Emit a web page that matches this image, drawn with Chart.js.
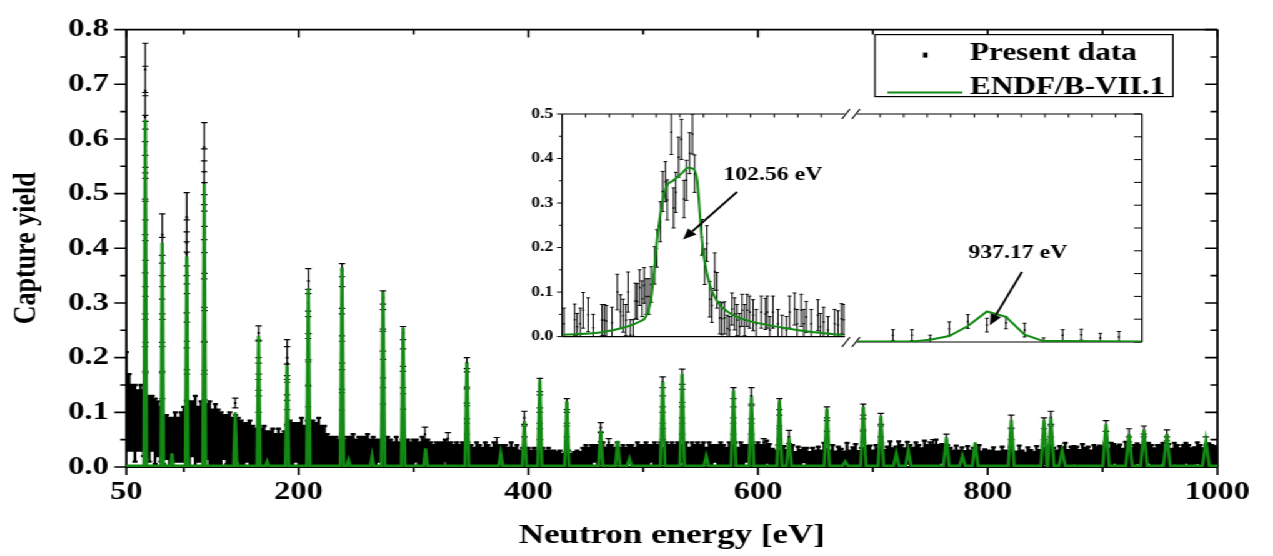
<!DOCTYPE html>
<html>
<head>
<meta charset="utf-8">
<script src="https://cdn.jsdelivr.net/npm/chart.js@4.4.0/dist/chart.umd.min.js"></script>
<style>
  html, body { margin: 0; padding: 0; background: #fff; overflow: hidden; }
  /* the original figure is stretched sideways, so the whole drawing is too */
  #wrap { position: absolute; left: 0; top: 0; width: 1018px; height: 556px;
          transform: scaleX(1.25); transform-origin: 0 0; }
  canvas { position: absolute; }
</style>
</head>
<body>
<div id="wrap">
  <canvas id="main" width="1018" height="556" style="left:0;top:0"></canvas>
  <canvas id="insetL" width="275" height="254" style="left:405px;top:98px"></canvas>
  <canvas id="insetR" width="255" height="254" style="left:665px;top:98px"></canvas>
</div>
<script>
// ---- main plot: axes ----
const xTickLabels = [50, 200, 400, 600, 800, 1000];
const xMinorTicks = [100, 300, 500, 700, 900];
const yTicks = [0, 0.1, 0.2, 0.3, 0.4, 0.5, 0.6, 0.7, 0.8];
const yMinorTicks = [0.05, 0.15, 0.25, 0.35, 0.45, 0.55, 0.65, 0.75];

// ---- measured yield, off-resonance (one point every 2.5 eV from 50 eV) ----
const bgStart = 50, bgStep = 2.5;
const bgY = [
  .12,.10,.09,.08,.085,.09,.08,.075,.07,.08,.065,.07,.06,.05,.055,.045,.05,.055,.05,.055,
  .06,.065,.06,.07,.065,.06,.065,.06,.065,.06,.055,.06,.055,.05,.055,.05,.05,.045,.05,.05,
  .045,.04,.045,.04,.04,.035,.04,.035,.04,.03,.035,.035,.03,.035,.03,.035,.04,.045,.04,.045,
  .04,.045,.04,.045,.04,.045,.04,.045,.04,.035,.03,.03,.025,.03,.025,.03,.025,.03,.025,.03,
  .025,.03,.025,.03,.03,.025,.03,.025,.03,.025,.025,.03,.025,.025,.03,.025,.025,.02,.025,.025,
  .025,.03,.025,.03,.025,.025,.025,.02,.025,.02,.025,.03,.025,.025,.02,.025,.02,.025,.02,.025,
  .02,.02,.025,.02,.02,.025,.02,.02,.025,.02,.02,.025,.02,.02,.025,.02,.02,.015,.02,.015,
  .02,.015,.02,.015,.015,.02,.015,.02,.015,.015,.015,.015,.012,.015,.015,.012,.015,.015,.015,.02,
  .02,.02,.02,.025,.02,.02,.025,.02,.02,.02,.02,.025,.02,.02,.02,.025,.02,.02,.025,.02,
  .02,.025,.02,.025,.025,.02,.025,.02,.025,.02,.025,.02,.025,.025,.02,.025,.02,.025,.02,.025,
  .02,.025,.02,.025,.02,.025,.02,.025,.02,.02,.025,.02,.025,.02,.025,.02,.025,.02,.025,.02,
  .025,.02,.022,.028,.02,.018,.015,.022,.015,.02,.016,.015,.022,.014,.02,.016,.022,.015,.015,.02,
  .015,.02,.016,.024,.018,.015,.022,.015,.02,.018,.015,.024,.015,.02,.022,.015,.02,.016,.02,.022,
  .015,.022,.018,.024,.016,.02,.025,.018,.02,.027,.02,.018,.026,.02,.019,.025,.02,.018,.026,.02,
  .025,.022,.027,.02,.025,.02,.022,.02,.015,.022,.016,.02,.015,.021,.015,.02,.016,.022,.015,.017,
  .015,.017,.02,.014,.016,.021,.015,.017,.02,.014,.016,.022,.015,.014,.02,.016,.015,.021,.016,.015,
  .02,.016,.022,.02,.015,.021,.02,.024,.016,.02,.022,.019,.016,.023,.02,.019,.015,.022,.02,.021,
  .02,.022,.018,.024,.025,.02,.021,.018,.026,.02,.019,.022,.025,.02,.018,.023,.026,.02,.019,.022,
  .02,.026,.019,.022,.018,.025,.02,.019,.022,.026,.02,.018,.021,.026,.02,.019,.022,.025,.02,.021,
  .02
];
const bgErr = [
  .09,.07,.06,.07,.055,.06,.06,.055,.06,.05,.06,.05,.05,.045,.04,.045,.04,.045,.04,.045,
  .05,.055,.06,.05,.065,.05,.055,.05,.05,.06,.05,.055,.05,.05,.04,.045,.05,.045,.045,.04,
  .04,.04,.035,.045,.035,.035,.03,.035,.035,.035,.03,.035,.03,.035,.03,.03,.035,.04,.04,.035,
  .04,.045,.035,.04,.045,.04,.04,.045,.035,.04,.03,.025,.03,.025,.025,.03,.025,.025,.03,.03,
  .025,.025,.03,.025,.03,.025,.025,.025,.02,.025,.02,.025,.025,.02,.025,.02,.025,.02,.025,.02,
  .025,.02,.02,.025,.025,.025,.02,.02,.02,.025,.02,.02,.02,.02,.02,.02,.02,.02,.02,.02,
  .02,.015,.02,.02,.015,.02,.02,.015,.02,.02,.02,.015,.02,.015,.02,.015,.02,.015,.015,.015,
  .015,.015,.015,.015,.02,.015,.015,.015,.015,.015,.012,.015,.012,.012,.015,.012,.012,.015,.012,.015,
  .02,.015,.02,.015,.02,.015,.02,.015,.02,.02,.015,.02,.015,.02,.015,.015,.02,.015,.02,.02,
  .02,.02,.02,.015,.02,.02,.02,.015,.02,.02,.02,.02,.02,.015,.02,.02,.015,.02,.02,.02,
  .02,.02,.015,.02,.02,.015,.02,.02,.02,.015,.02,.02,.02,.015,.02,.02,.015,.02,.02,.02,
  .02,.02,.018,.02,.022,.015,.015,.018,.013,.018,.015,.012,.018,.013,.017,.015,.013,.02,.012,.015,
  .015,.017,.014,.02,.015,.015,.018,.013,.017,.015,.013,.02,.015,.016,.02,.014,.015,.015,.018,.017,
  .015,.018,.015,.02,.015,.017,.022,.016,.017,.02,.02,.016,.02,.02,.016,.02,.02,.016,.022,.02,
  .02,.018,.023,.02,.017,.02,.018,.015,.015,.017,.014,.016,.014,.017,.015,.015,.014,.018,.013,.015,
  .015,.013,.016,.014,.012,.016,.015,.012,.017,.014,.012,.017,.015,.012,.016,.015,.012,.017,.015,.015,
  .015,.015,.018,.015,.015,.017,.016,.02,.015,.017,.016,.018,.015,.019,.015,.018,.015,.018,.016,.018,
  .017,.02,.015,.02,.017,.018,.02,.015,.02,.02,.015,.018,.018,.02,.015,.02,.018,.02,.015,.018,
  .02,.018,.016,.02,.015,.019,.02,.015,.018,.018,.02,.016,.015,.019,.02,.015,.018,.018,.02,.017,
  .015
];

// ---- measured yield on resonances and isolated high points: [energy eV, yield, error] ----
const peakData = [
  [66.5,.727,.048],[66.5,.688,.045],[66.4,.64,.045],[66.6,.59,.042],[66.5,.578,.04],[66.4,.53,.04],
  [66.6,.49,.038],[66.5,.45,.036],[66.4,.39,.035],[66.6,.345,.033],[66.5,.30,.03],[66.4,.25,.03],
  [66.6,.20,.028],[66.5,.15,.025],
  [81.3,.425,.038],[81.3,.385,.035],[81.2,.34,.033],[81.4,.30,.03],[81.3,.25,.03],[81.2,.20,.028],[81.4,.15,.025],
  [102.6,.457,.045],[102.6,.41,.042],[102.5,.39,.04],[102.7,.355,.038],[102.6,.30,.035],[102.5,.25,.032],
  [102.7,.20,.03],[102.6,.15,.028],
  [117.8,.585,.045],[117.8,.54,.042],[117.7,.52,.04],[117.9,.48,.04],[117.8,.43,.038],[117.7,.38,.036],
  [117.9,.32,.034],[117.8,.26,.032],[117.7,.20,.03],[117.9,.15,.027],
  [144.8,.117,.009],
  [165.2,.245,.013],[165.2,.21,.02],[165.1,.18,.02],[165.3,.15,.02],[165.2,.12,.02],
  [190,.20,.033],[190,.19,.03],[189.9,.16,.028],[190.1,.13,.025],[190,.10,.022],
  [208.5,.34,.023],[208.5,.30,.025],[208.4,.26,.025],[208.6,.22,.024],[208.5,.17,.022],[208.4,.13,.02],
  [237.8,.36,.012],[237.8,.31,.02],[237.7,.26,.02],[237.9,.21,.02],[237.8,.16,.018],[237.7,.12,.016],
  [273.5,.31,.012],[273.5,.27,.018],[273.4,.23,.018],[273.6,.18,.017],[273.5,.13,.015],
  [291,.245,.012],[291,.20,.016],[290.9,.16,.015],[291.1,.12,.014],
  [310,.06,.013],[330,.052,.011],
  [346.5,.19,.01],[346.5,.16,.014],[346.4,.13,.013],[346.6,.10,.012],[346.5,.07,.01],
  [372.5,.045,.009],
  [396.5,.09,.012],[396.5,.065,.01],
  [410,.15,.012],[410,.12,.012],[409.9,.09,.01],[410.1,.06,.01],
  [433.5,.115,.01],[433.5,.09,.01],[433.4,.065,.01],
  [463,.072,.009],[463,.055,.009],[470,.045,.007],
  [517,.155,.01],[517,.12,.01],[516.9,.09,.01],[517.1,.06,.01],
  [534,.165,.014],[534,.13,.012],[533.9,.10,.01],[534.1,.07,.01],
  [578.7,.135,.01],[578.7,.10,.01],[578.6,.07,.01],
  [594.3,.13,.015],[594.3,.10,.012],[594.2,.07,.01],
  [605,.045,.007],
  [618.7,.115,.01],[618.7,.085,.01],[618.6,.06,.01],
  [627,.055,.012],
  [660,.10,.01],[660,.075,.01],
  [691.7,.105,.01],[691.7,.078,.01],[691.6,.055,.01],
  [707,.088,.01],[707,.065,.01],
  [752.5,.04,.01],[764,.05,.01],
  [820.5,.083,.012],[820.5,.06,.01],
  [849,.08,.01],[849,.06,.01],
  [855,.09,.012],[855,.065,.01],
  [903,.075,.01],[903,.055,.01],
  [923,.058,.012],[923,.045,.01],
  [936,.065,.01],[936,.05,.01],
  [956,.058,.01],[956,.045,.01],
  [990,.045,.01]
];

// ---- ENDF/B-VII.1 resonances: [energy eV, peak yield, half width eV] ----
const endfPeaks = [
  [66.5,.635,1.2],[81.3,.41,1.2],[89.8,.025,1.2],[102.6,.385,1.3],[117.8,.517,1.3],
  [144.8,.10,1.4],[165.2,.24,1.4],[172.6,.01,1.4],[190.0,.186,1.5],[208.5,.326,1.5],
  [237.8,.365,1.5],[243.5,.013,1.5],[264,.02,1.5],[273.5,.32,1.6],[291.0,.255,1.6],
  [310.5,.034,1.6],[346.5,.19,1.7],[376,.025,1.8],[396.5,.084,1.8],[410,.16,1.8],
  [433.5,.12,1.9],[463,.066,1.9],[477.8,.048,2],[488,.015,2],[517,.156,2],
  [534,.17,2],[555,.02,2.1],[578.7,.14,2.1],[594.3,.129,2.1],[618.7,.122,2.2],
  [627,.054,2.2],[660,.107,2.3],[676,.01,2.3],[691.7,.11,2.3],[707,.093,2.4],
  [720.4,.025,2.4],[730.9,.03,2.4],[764,.054,2.5],[778,.02,2.5],[789.1,.045,2.5],
  [820.5,.086,2.6],[849,.086,2.7],[855,.09,2.7],[864.8,.03,2.7],[903,.078,2.8],
  [923,.06,2.8],[936,.068,2.8],[956,.06,2.9],[990,.047,3]
];

// ---- inset, left panel (102.56 eV resonance): [energy eV, yield, error] ----
const insetLeftTicks = [99.25, 100, 100.75, 101.5, 102.25, 103, 103.75, 104.5, 105.25, 106, 106.75];
const insetLeftData = [
  [98.56,.029,.035],[98.90,.038,.035],[98.98,.022,.03],[99.08,.029,.035],[99.17,.059,.04],
  [99.33,.049,.038],[99.49,.020,.03],[99.77,.037,.035],[99.84,.037,.035],[99.91,.035,.035],
  [100.09,.031,.035],[100.26,.100,.04],[100.36,.056,.038],[100.44,.047,.037],[100.53,.037,.035],
  [100.60,.100,.045],[100.67,.003,.035],[100.76,.003,.035],[100.83,.080,.04],[100.89,.079,.04],
  [100.97,.110,.04],[101.05,.085,.04],[101.11,.115,.04],[101.18,.090,.04],[101.26,.090,.04],
  [101.34,.117,.04],[101.45,.160,.042],[101.52,.198,.042],[101.63,.258,.045],[101.70,.326,.045],
  [101.79,.348,.045],[101.85,.307,.045],[101.98,.459,.05],[102.05,.289,.045],[102.12,.324,.045],
  [102.21,.403,.045],[102.30,.443,.045],[102.38,.309,.042],[102.46,.351,.045],[102.56,.412,.046],
  [102.65,.455,.045],[102.72,.366,.042],[102.95,.223,.04],[103.04,.157,.04],[103.11,.209,.04],
  [103.20,.084,.04],[103.27,.070,.038],[103.36,.146,.042],[103.43,.104,.04],[103.52,.042,.036],
  [103.59,.040,.036],[103.67,.042,.036],[103.76,.018,.03],[103.83,.015,.03],[103.91,.062,.036],
  [103.99,.051,.036],[104.07,.037,.035],[104.15,.022,.03],[104.23,.059,.036],[104.31,.037,.035],
  [104.39,.059,.036],[104.47,.055,.036],[104.58,.048,.035],[104.68,.029,.032],[104.84,.055,.036],
  [104.97,.051,.035],[105.03,.055,.036],[105.11,.015,.03],[105.21,.055,.036],[105.37,.029,.032],
  [105.50,.018,.03],[105.64,.015,.03],[105.74,.055,.036],[105.90,.062,.036],[105.98,.029,.032],
  [106.11,.059,.036],[106.19,.029,.032],[106.27,.044,.035],[106.43,.029,.032],[106.64,.048,.035],
  [106.72,.022,.03],[106.82,.033,.033],[106.96,.015,.03],[107.17,.029,.032],[107.28,.026,.032],
  [107.39,.040,.034],[107.46,.038,.034]
];
const insetLeftEndf = [
  [98.53,.004],[99.70,.009],[100.55,.022],[100.97,.034],[101.18,.046],[101.34,.088],
  [101.45,.161],[101.55,.234],[101.71,.307],[101.82,.337],[102.03,.350],[102.30,.366],
  [102.51,.379],[102.67,.377],[102.80,.351],[102.86,.300],[102.93,.234],[103.04,.168],
  [103.20,.117],[103.41,.082],[103.83,.053],[104.36,.037],[105.53,.020],[106.59,.009],[107.44,.004]
];

// ---- inset, right panel (937.17 eV resonance) ----
const insetRightTicks = [931.5, 932.75, 934, 935.25, 936.5, 937.75, 939, 940.25, 941.5, 942.75, 944];
const insetRightData = [
  [932.18,.015,.012],[933.19,.015,.012],[934.16,.007,.008],[935.17,.029,.015],[936.16,.045,.015],
  [937.17,.037,.015],[938.18,.042,.013],[939.17,.026,.015],[940.18,.001,.008],[941.19,.015,.012],
  [942.18,.016,.012],[943.19,.009,.01],[944.18,.011,.012]
];
const insetRightEndf = [
  [930.27,.001],[933.19,.001],[934.16,.005],[935.17,.013],[936.16,.035],[937.17,.067],
  [938.18,.055],[939.17,.016],[940.18,.002],[941.19,.002],[945.40,.001]
];
const insetYTicks = [0, 0.1, 0.2, 0.3, 0.4, 0.5];
const insetYMinor = [0.05, 0.15, 0.25, 0.35, 0.45];

// labels with arrows, in data units of each panel
const noteLeft = { text: '102.56 eV', at: [105.21, 0.363], from: [104.07, 0.325], to: [102.35, 0.218] };
const noteRight = { text: '937.17 eV', at: [938.82, 0.196], from: [939.03, 0.154], to: [937.33, 0.037] };

const GREEN = '#138a13';
const SERIF = "'Liberation Serif', 'Times New Roman', serif";
Chart.defaults.font.family = SERIF;
Chart.defaults.font.weight = 'bold';
Chart.defaults.color = '#000';

// vertical error bars with caps, drawn under each dataset that has .errors
const errorBars = {
  id: 'errorBars',
  beforeDatasetDraw(chart, args) {
    const ds = chart.data.datasets[args.index];
    if (!ds.errors) return;
    const { ctx, chartArea: a } = chart;
    const xs = chart.scales.x, ys = chart.scales.y;
    const c = ds.capWidth / 2;
    ctx.save();
    ctx.beginPath();
    ctx.rect(a.left, a.top, a.right - a.left, a.bottom - a.top);
    ctx.clip();
    ctx.strokeStyle = '#000';
    ctx.lineWidth = ds.errWidth;
    ctx.beginPath();
    ds.data.forEach((p, i) => {
      const px = xs.getPixelForValue(p.x);
      const lo = p.y - ds.errors[i];
      const y0 = ys.getPixelForValue(Math.max(0, lo));
      const y1 = ys.getPixelForValue(p.y + ds.errors[i]);
      ctx.moveTo(px, y0); ctx.lineTo(px, y1);
      ctx.moveTo(px - c, y1); ctx.lineTo(px + c, y1);
      if (lo > 0) { ctx.moveTo(px - c, y0); ctx.lineTo(px + c, y0); }
    });
    ctx.stroke();
    ctx.restore();
  }
};

// box lines, tick marks (in or out) and axis break marks
const frame = {
  id: 'frame',
  beforeDatasetsDraw(chart, args, o) {
    const { ctx, chartArea: a } = chart;
    ctx.save();
    ctx.strokeStyle = '#000';
    ctx.lineWidth = o.width;
    ctx.beginPath();
    o.sides.forEach(s => {
      if (s === 'left') { ctx.moveTo(a.left, a.top); ctx.lineTo(a.left, a.bottom); }
      if (s === 'right') { ctx.moveTo(a.right, a.top); ctx.lineTo(a.right, a.bottom); }
      if (s === 'top') { ctx.moveTo(a.left, a.top); ctx.lineTo(a.right, a.top); }
      if (s === 'bottom') { ctx.moveTo(a.left, a.bottom); ctx.lineTo(a.right, a.bottom); }
    });
    ctx.stroke();
    ctx.lineWidth = o.tickWidth;
    ctx.beginPath();
    o.marks.forEach(m => {
      const vertical = m.side === 'left' || m.side === 'right';
      const sc = vertical ? chart.scales.y : chart.scales.x;
      m.values.forEach(v => {
        const p = sc.getPixelForValue(v);
        if (m.side === 'left') { ctx.moveTo(a.left, p); ctx.lineTo(a.left + m.len, p); }
        if (m.side === 'right') { ctx.moveTo(a.right, p); ctx.lineTo(a.right - m.len, p); }
        if (m.side === 'top') { ctx.moveTo(p, a.top); ctx.lineTo(p, a.top + m.len); }
        if (m.side === 'bottom') { ctx.moveTo(p, a.bottom); ctx.lineTo(p, a.bottom - m.len); }
      });
    });
    ctx.stroke();
    if (o.breaks) {
      ctx.lineWidth = 1.1;
      ctx.beginPath();
      [a.top, a.bottom].forEach(yy => {
        [-12, -4].forEach(dx => {
          ctx.moveTo(a.left + dx, yy + 5);
          ctx.lineTo(a.left + dx + 6.4, yy - 5);
        });
      });
      ctx.stroke();
    }
    ctx.restore();
  }
};

// legend in a box inside the plot, drawn from the datasets' own labels and styles
const boxLegend = {
  id: 'boxLegend',
  afterDraw(chart, args, o) {
    if (!o.show) return;
    const { ctx, chartArea: a } = chart;
    const x0 = a.right - o.right - o.width, y0 = a.top + o.top;
    const pts = chart.data.datasets[0], line = chart.data.datasets[2];
    ctx.save();
    ctx.fillStyle = '#fff';
    ctx.fillRect(x0, y0, o.width, o.height);
    ctx.strokeStyle = '#000';
    ctx.lineWidth = 1.2;
    ctx.strokeRect(x0, y0, o.width, o.height);
    ctx.font = 'bold 25px ' + SERIF;
    ctx.textAlign = 'left';
    ctx.textBaseline = 'alphabetic';
    ctx.fillStyle = pts.backgroundColor;
    ctx.fillRect(x0 + 38.5, y0 + 18, 3.6, 5);
    ctx.fillStyle = '#000';
    ctx.fillText(pts.label, x0 + 76, y0 + 25);
    ctx.strokeStyle = line.borderColor;
    ctx.lineWidth = 2;
    ctx.beginPath();
    ctx.moveTo(x0 + 10, y0 + 58);
    ctx.lineTo(x0 + 70, y0 + 58);
    ctx.stroke();
    ctx.fillText(line.label, x0 + 76, y0 + 59.5);
    ctx.restore();
  }
};

// text label with an arrow pointing at a resonance
const notes = {
  id: 'notes',
  afterDatasetsDraw(chart, args, o) {
    if (!o.item) return;
    const n = o.item;
    const { ctx } = chart;
    const xs = chart.scales.x, ys = chart.scales.y;
    ctx.save();
    ctx.font = 'bold 19px ' + SERIF;
    ctx.fillStyle = '#000';
    ctx.textAlign = 'center';
    ctx.textBaseline = 'middle';
    ctx.fillText(n.text, xs.getPixelForValue(n.at[0]), ys.getPixelForValue(n.at[1]));
    const x0 = xs.getPixelForValue(n.from[0]), y0 = ys.getPixelForValue(n.from[1]);
    const x1 = xs.getPixelForValue(n.to[0]), y1 = ys.getPixelForValue(n.to[1]);
    const ang = Math.atan2(y1 - y0, x1 - x0);
    const head = 11, hw = 4.5;
    const bx = x1 - head * Math.cos(ang), by = y1 - head * Math.sin(ang);
    ctx.strokeStyle = '#000';
    ctx.lineWidth = 1.8;
    ctx.beginPath();
    ctx.moveTo(x0, y0);
    ctx.lineTo(bx, by);
    ctx.stroke();
    ctx.beginPath();
    ctx.moveTo(x1, y1);
    ctx.lineTo(bx + hw * Math.sin(ang), by - hw * Math.cos(ang));
    ctx.lineTo(bx - hw * Math.sin(ang), by + hw * Math.cos(ang));
    ctx.closePath();
    ctx.fill();
    ctx.restore();
  }
};

// ---- main chart ----
const bgPoints = bgY.map((v, i) => ({ x: bgStart + i * bgStep, y: v }));
const peakPoints = peakData.map(d => ({ x: d[0], y: d[1] }));

const endfLine = [{ x: 50, y: 0.002 }];
endfPeaks.forEach(([e, h, hw]) => {
  endfLine.push({ x: e - hw, y: 0.002 }, { x: e, y: h }, { x: e + hw, y: 0.002 });
});
endfLine.push({ x: 1000, y: 0.002 });

new Chart(document.getElementById('main'), {
  type: 'scatter',
  data: {
    datasets: [
      {
        label: 'Present data',
        data: bgPoints,
        errors: bgErr,
        errWidth: 2.3,
        capWidth: 4,
        pointStyle: 'rect',
        pointRadius: 1.3,
        backgroundColor: '#000',
        borderWidth: 0,
        order: 3
      },
      {
        label: 'Present data (resonances)',
        data: peakPoints,
        errors: peakData.map(d => d[2]),
        errWidth: 1.2,
        capWidth: 5,
        pointStyle: 'rect',
        pointRadius: 1.4,
        backgroundColor: '#000',
        borderWidth: 0,
        order: 2
      },
      {
        label: 'ENDF/B-VII.1',
        data: endfLine,
        showLine: true,
        borderColor: GREEN,
        borderWidth: 2.6,
        pointRadius: 0,
        tension: 0,
        order: 1
      }
    ]
  },
  options: {
    responsive: false,
    animation: false,
    devicePixelRatio: 1,
    events: [],
    layout: { padding: { left: 0, right: 44, top: 20, bottom: 0 } },
    scales: {
      x: {
        type: 'linear',
        min: 50,
        max: 1000,
        afterFit: s => { s.height = 89; },
        afterBuildTicks: s => { s.ticks = xTickLabels.map(v => ({ value: v })); },
        grid: { display: false, drawTicks: false },
        border: { display: false },
        ticks: { autoSkip: false, maxRotation: 0, padding: 10, font: { size: 26 }, callback: v => String(v) },
        title: { display: true, text: 'Neutron energy [eV]', font: { size: 28 }, padding: { top: 0, bottom: 3 } }
      },
      y: {
        min: 0,
        max: 0.8,
        afterFit: s => { s.width = 101; },
        afterBuildTicks: s => { s.ticks = yTicks.map(v => ({ value: v })); },
        grid: { display: false, drawTicks: false },
        border: { display: false },
        ticks: { padding: 14, font: { size: 26 }, callback: v => v.toFixed(1) },
        title: { display: true, text: 'Capture yield', font: { size: 26 }, padding: { top: 6, bottom: 0 } }
      }
    },
    plugins: {
      legend: { display: false },
      tooltip: { enabled: false },
      frame: {
        width: 1.8,
        tickWidth: 1.6,
        sides: ['left', 'bottom', 'top', 'right'],
        marks: [
          { side: 'left', values: yTicks, len: -9.6 },
          { side: 'left', values: yMinorTicks, len: -4.8 },
          { side: 'right', values: yTicks, len: 10 },
          { side: 'right', values: yMinorTicks, len: 5.6 },
          { side: 'bottom', values: xTickLabels, len: -8 },
          { side: 'bottom', values: xMinorTicks, len: -5 },
          { side: 'top', values: xTickLabels, len: 8 },
          { side: 'top', values: xMinorTicks, len: 5 }
        ]
      },
      boxLegend: { show: true, right: 35.6, top: 5, width: 238.4, height: 62 }
    }
  },
  plugins: [errorBars, frame, boxLegend]
});

// ---- inset panels ----
function insetChart(id, pts, curve, xMin, xMax, opts) {
  return new Chart(document.getElementById(id), {
    type: 'scatter',
    data: {
      datasets: [
        {
          label: 'Present data',
          data: pts.map(d => ({ x: d[0], y: d[1] })),
          errors: pts.map(d => d[2]),
          errWidth: 1,
          capWidth: 3,
          pointStyle: 'rect',
          pointRadius: 1.1,
          backgroundColor: '#000',
          borderWidth: 0,
          order: 2
        },
        {
          label: 'ENDF/B-VII.1',
          data: curve.map(d => ({ x: d[0], y: d[1] })),
          showLine: true,
          borderColor: GREEN,
          borderWidth: 2,
          pointRadius: 0,
          cubicInterpolationMode: opts.smooth ? 'monotone' : 'default',
          tension: 0,
          order: 1
        }
      ]
    },
    options: {
      responsive: false,
      animation: false,
      devicePixelRatio: 1,
      events: [],
      layout: { padding: opts.padding },
      scales: {
        x: { type: 'linear', min: xMin, max: xMax, display: false },
        y: {
          min: 0,
          max: 0.5,
          display: opts.showY,
          afterFit: s => { if (opts.showY) s.width = 44.6; },
          afterBuildTicks: s => { s.ticks = insetYTicks.map(v => ({ value: v })); },
          grid: { display: false, drawTicks: false },
          border: { display: false },
          ticks: { padding: 7, font: { size: 14 }, callback: v => v.toFixed(1) }
        }
      },
      plugins: {
        legend: { display: false },
        tooltip: { enabled: false },
        frame: opts.frame,
        notes: { item: opts.note }
      }
    },
    plugins: [errorBars, frame, notes]
  });
}

insetChart('insetL', insetLeftData, insetLeftEndf, 98.5, 107.5, {
  smooth: true,
  showY: true,
  padding: { left: 0, right: 4, top: 16, bottom: 10 },
  note: noteLeft,
  frame: {
    width: 1.2,
    tickWidth: 1,
    sides: ['left', 'top', 'bottom'],
    marks: [
      { side: 'left', values: insetYTicks, len: -4 },
      { side: 'left', values: insetYMinor, len: -2.4 },
      { side: 'top', values: insetLeftTicks, len: 3.5 }
    ]
  }
});

insetChart('insetR', insetRightData, insetRightEndf, 930.27, 945.40, {
  smooth: false,
  showY: false,
  padding: { left: 20.6, right: 6.4, top: 16, bottom: 10 },
  note: noteRight,
  frame: {
    width: 1.2,
    tickWidth: 1,
    breaks: true,
    sides: ['right', 'top', 'bottom'],
    marks: [
      { side: 'right', values: insetYTicks, len: 6.4 },
      { side: 'right', values: insetYMinor, len: 6.4 },
      { side: 'top', values: insetRightTicks, len: 3.5 }
    ]
  }
});
</script>
</body>
</html>
